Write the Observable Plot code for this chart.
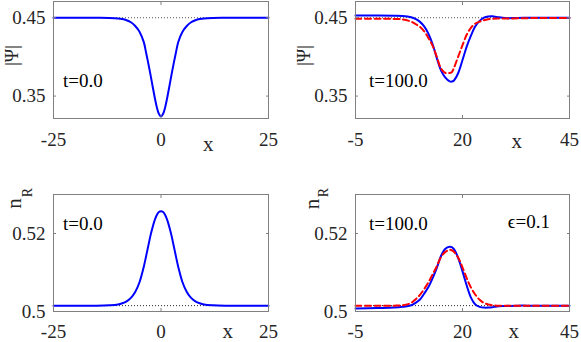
<!DOCTYPE html>
<html><head><meta charset="utf-8">
<script src="https://cdn.jsdelivr.net/npm/d3@7"></script>
<script src="https://cdn.jsdelivr.net/npm/@observablehq/plot@0.6"></script>
<style>
html,body{margin:0;padding:0;background:#fff;}
#chart{position:relative;width:581px;height:342px;overflow:hidden;background:#fff;font-family:'Liberation Serif',serif;}
#chart > svg{position:absolute;}
#chart text{font-family:'Liberation Serif',serif;}
</style></head><body><div id="chart"></div>
<script>
// ---------- data ----------
// t = 0.0 panels
const xT0 = [-25,-20,-15,-12,-10,-9,-8,-7,-6,-5,-4,-3.5,-3,-2.5,-2,-1.5,-1,-0.5,0,0.5,1,1.5,2,2.5,3,3.5,4,5,6,7,8,9,10,12,15,20,25];
const psiT0 = [0.4500,0.4500,0.4499,0.4497,0.4491,0.4483,0.4468,0.4442,0.4395,0.4322,0.4188,0.4062,0.3930,0.3790,0.3640,0.3495,0.3365,0.3275,0.3242,0.3275,0.3365,0.3495,0.3640,0.3790,0.3930,0.4062,0.4188,0.4322,0.4395,0.4442,0.4468,0.4483,0.4491,0.4497,0.4499,0.4500,0.4500];
const nRT0 = [0.5015,0.5015,0.5015,0.5016,0.5018,0.5021,0.5026,0.5035,0.5050,0.5075,0.5115,0.5140,0.5166,0.5192,0.5214,0.5233,0.5247,0.5255,0.5257,0.5255,0.5247,0.5233,0.5214,0.5192,0.5166,0.5140,0.5115,0.5075,0.5050,0.5035,0.5026,0.5021,0.5018,0.5016,0.5015,0.5015,0.5015];
// t = 100.0 panels (solid blue = numerics, dashed red = approximation)
const xT100 = [-5,0,4,6,8,9,10,11,12,13,14,15,16,17,17.5,18,19,20,21,22,23,24,25,26,27,28,30,33,36,40,45];
const psiT100Blue = [0.4528,0.4528,0.4526,0.4522,0.4505,0.4485,0.4450,0.4392,0.4300,0.4165,0.3985,0.3825,0.3735,0.3688,0.3685,0.3700,0.3795,0.3960,0.4135,0.4275,0.4390,0.4460,0.4500,0.4516,0.4518,0.4510,0.4495,0.4497,0.4500,0.4500,0.4500];
const psiT100Red = [0.4487,0.4487,0.4485,0.4478,0.4450,0.4420,0.4385,0.4330,0.4245,0.4145,0.4000,0.3850,0.3795,0.3795,0.3805,0.3860,0.4005,0.4150,0.4285,0.4375,0.4425,0.4450,0.4468,0.4480,0.4487,0.4490,0.4490,0.4492,0.4495,0.4495,0.4495];
const nRT100Blue = [0.5008,0.5009,0.5010,0.5012,0.5016,0.5022,0.5030,0.5045,0.5062,0.5085,0.5112,0.5143,0.5161,0.5166,0.5165,0.5160,0.5137,0.5103,0.5066,0.5035,0.5018,0.5012,0.5010,0.5010,0.5011,0.5013,0.5014,0.5015,0.5015,0.5015,0.5015];
const nRT100Red = [0.50145,0.5015,0.5015,0.5016,0.5022,0.5031,0.5042,0.5057,0.5074,0.5095,0.5116,0.5140,0.5153,0.5158,0.5157,0.5153,0.5138,0.5113,0.5085,0.5061,0.5043,0.5030,0.5022,0.5018,0.5016,0.5015,0.5015,0.5015,0.5015,0.5015,0.5015];
// background levels (dotted)
const psiBackground = 0.45;
const nRBackground = 0.5015;
// axes
const xDomainT0 = [-25, 25];
const xDomainT100 = [-5, 45];
const xTicksT0 = [-25, 0, 25];
const xTickLabelsT0 = ["-25", "0", "25"];
const xTicksT100 = [-5, 20, 45];
const xTickLabelsT100 = ["-5", "20", "45"];
const yDomainPsi = [0.3214, 0.4707];
const yTicksPsi = [0.35, 0.45];
const yTickLabelsPsi = ["0.35", "0.45"];
const yDomainNR = [0.5, 0.53];
const yTicksNR = [0.5, 0.52];
const yTickLabelsNR = ["0.5", "0.52"];
// texts
const labelPsi = "|\u03A8|";
const labelN = "n";
const labelSub = "R";
const labelX = "x";
const timeT0 = "t=0.0";
const timeT100 = "t=100.0";
const epsText = "\u03F5=0.1";

// ---------- drawing ----------
const FONT = "Liberation Serif";
const FRAME = "#808080";
const TICKTXT = "#262626";
const chart = document.getElementById("chart");

function rows(xs, ys) { return xs.map((x, i) => ({x, y: ys[i]})); }

function panel(o) {
  const marks = [
    Plot.ruleY([o.base], {stroke: o.baseColor, strokeWidth: 1, strokeDasharray: "1,2"}),
    ...o.series.map(s => Plot.line(rows(s.x, s.y), {x: "x", y: "y", stroke: s.color, strokeWidth: 2, strokeDasharray: s.dash, curve: "catmull-rom"})),
    Plot.frame({stroke: FRAME, strokeWidth: 1}),
    Plot.axisX({anchor: "bottom", ticks: o.xTicks, tickSize: 0, tickPadding: o.xPad, tickFormat: d => o.xLabels[o.xTicks.indexOf(d)], label: null, fontSize: 19, fontFamily: FONT, fill: TICKTXT}),
    Plot.axisX({anchor: "bottom", ticks: o.xTicks, tickSize: -3, fill: "none", label: null, stroke: FRAME}),
    Plot.axisX({anchor: "top", ticks: o.xTicks, tickSize: -3, fill: "none", label: null, stroke: FRAME}),
    Plot.axisY({anchor: "left", ticks: o.yTicks, tickSize: 0, tickPadding: 8, tickFormat: d => o.yLabels[o.yTicks.indexOf(d)], label: null, fontSize: 19, fontFamily: FONT, fill: TICKTXT}),
    Plot.axisY({anchor: "left", ticks: o.yTicks, tickSize: -3, fill: "none", label: null, stroke: FRAME}),
    Plot.axisY({anchor: "right", ticks: o.yTicks, tickSize: -3, fill: "none", label: null, stroke: FRAME}),
    // x axis label
    Plot.text([labelX], {x: () => o.xLabelX, frameAnchor: "bottom", dy: o.xLabelDy, text: d => d, fontSize: 21, fontFamily: FONT, textAnchor: "middle", lineAnchor: "bottom", fill: TICKTXT}),
    ...o.yLabel.map(t => Plot.text([t.text], {frameAnchor: "top-left", dx: t.dx, dy: t.dy, text: d => d, rotate: -90, fontSize: t.size, fontFamily: FONT, textAnchor: "middle", lineAnchor: "bottom", fill: TICKTXT})),
    ...o.notes.map(t => Plot.text([t], {x: "x", y: "y", text: "text", fontSize: 19, fontFamily: FONT, textAnchor: "start", lineAnchor: "bottom", fill: "#000"}))
  ];
  const svg = Plot.plot({
    width: o.width, height: 171,
    marginLeft: o.mL, marginRight: o.mR, marginTop: o.mT, marginBottom: o.mB,
    x: {domain: o.xDomain},
    y: {domain: o.yDomain},
    style: {fontFamily: FONT, fontSize: "19px", background: "transparent", overflow: "visible", color: "#000"},
    marks
  });
  svg.style.left = o.left + "px";
  svg.style.top = o.top + "px";
  chart.appendChild(svg);
}

// top-left: |Psi| at t=0
panel({
  left: 0, top: 0, width: 290, mL: 53, mR: 22, mT: 1, mB: 53,
  xDomain: xDomainT0, xTicks: xTicksT0, xLabels: xTickLabelsT0, xPad: 14,
  yDomain: yDomainPsi, yTicks: yTicksPsi, yLabels: yTickLabelsPsi,
  base: psiBackground, baseColor: "#555",
  series: [{x: xT0, y: psiT0, color: "#0000ff", dash: null}],
  xLabelX: 11, xLabelDy: 32,
  yLabel: [{text: labelPsi, dx: -36, dy: 54, size: 18}],
  notes: [{x: -22.8, y: 0.3610, text: timeT0}]
});
// top-right: |Psi| at t=100
panel({
  left: 290, top: 0, width: 291, mL: 65, mR: 12, mT: 1, mB: 53,
  xDomain: xDomainT100, xTicks: xTicksT100, xLabels: xTickLabelsT100, xPad: 14,
  yDomain: yDomainPsi, yTicks: yTicksPsi, yLabels: yTickLabelsPsi,
  base: psiBackground, baseColor: "#555",
  series: [{x: xT100, y: psiT100Blue, color: "#0000ff", dash: null}, {x: xT100, y: psiT100Red, color: "#ff0000", dash: "6,3.5"}],
  xLabelX: 32.7, xLabelDy: 29,
  yLabel: [{text: labelPsi, dx: -46, dy: 54, size: 18}],
  notes: [{x: -1.85, y: 0.3610, text: timeT100}]
});
// bottom-left: n_R at t=0
panel({
  left: 0, top: 171, width: 290, mL: 53, mR: 22, mT: 23, mB: 31,
  xDomain: xDomainT0, xTicks: xTicksT0, xLabels: xTickLabelsT0, xPad: 13,
  yDomain: yDomainNR, yTicks: yTicksNR, yLabels: yTickLabelsNR,
  base: nRBackground, baseColor: "#222",
  series: [{x: xT0, y: nRT0, color: "#0000ff", dash: null}],
  xLabelX: 15.5, xLabelDy: 26,
  yLabel: [{text: labelN, dx: -33, dy: 9, size: 21}, {text: labelSub, dx: -22, dy: -2, size: 14}],
  notes: [{x: -22.8, y: 0.5210, text: timeT0}]
});
// bottom-right: n_R at t=100
panel({
  left: 290, top: 171, width: 291, mL: 65, mR: 12, mT: 23, mB: 31,
  xDomain: xDomainT100, xTicks: xTicksT100, xLabels: xTickLabelsT100, xPad: 13,
  yDomain: yDomainNR, yTicks: yTicksNR, yLabels: yTickLabelsNR,
  base: nRBackground, baseColor: "#222",
  series: [{x: xT100, y: nRT100Blue, color: "#0000ff", dash: null}, {x: xT100, y: nRT100Red, color: "#ff0000", dash: "6,3.5"}],
  xLabelX: 32.0, xLabelDy: 26,
  yLabel: [{text: labelN, dx: -37, dy: 9.5, size: 21}, {text: labelSub, dx: -27.5, dy: -2, size: 14}],
  notes: [{x: -1.85, y: 0.5210, text: timeT100}, {x: 30.6, y: 0.5213, text: epsText}]
});
</script>
</body></html>
